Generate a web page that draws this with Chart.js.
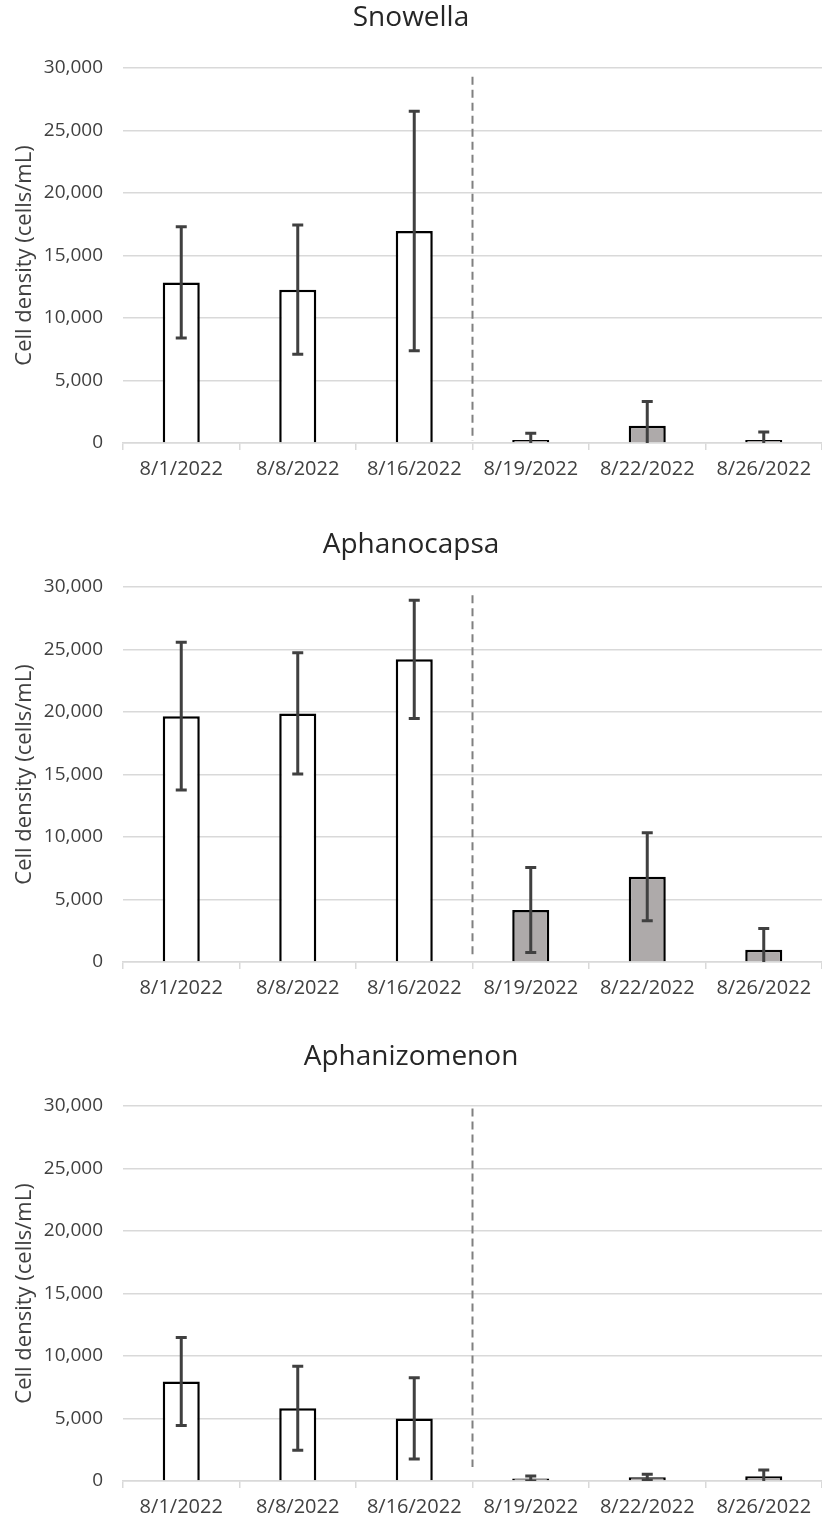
<!DOCTYPE html>
<html>
<head>
<meta charset="utf-8">
<script src="https://cdn.jsdelivr.net/npm/chart.js@4.4.1/dist/chart.umd.min.js"></script>
<style>
  html, body { margin: 0; padding: 0; background: #fff; }
  .panel { position: absolute; left: 0; width: 822px; height: 483px; }
</style>
</head>
<body>
<div class="panel" style="top:0"><canvas id="c0"></canvas></div>
<div class="panel" style="top:519px"><canvas id="c1"></canvas></div>
<div class="panel" style="top:1038px"><canvas id="c2"></canvas></div>
<script>
// ── Data ──────────────────────────────────────────────────
const DATES = ['8/1/2022', '8/8/2022', '8/16/2022', '8/19/2022', '8/22/2022', '8/26/2022'];
const TITLES = ['Snowella', 'Aphanocapsa', 'Aphanizomenon'];
const Y_LABEL = 'Cell density (cells/mL)';

const SNOWELLA      = [12850, 12270, 16960, 250, 1380, 250];
const SNOWELLA_SD   = [4450, 5170, 9580, 530, 1950, 630];
const APHANOCAPSA    = [19670, 19890, 24220, 4160, 6820, 980];
const APHANOCAPSA_SD = [5910, 4850, 4730, 3400, 3520, 1700];
const APHANIZOMENON    = [7970, 5830, 5010, 200, 300, 380];
const APHANIZOMENON_SD = [3520, 3360, 3250, 200, 240, 500];

// dashed divider between 8/16 and 8/19 runs between these y values
const DIVIDER_TOP    = [29300, 29350, 29800];
const DIVIDER_BOTTOM = [160, 580, 1120];
const LAST_BEFORE_DIVIDER = 2;   // index of 8/16

const SERIES = [SNOWELLA, APHANOCAPSA, APHANIZOMENON];
const ERRORS = [SNOWELLA_SD, APHANOCAPSA_SD, APHANIZOMENON_SD];

// ── Look ──────────────────────────────────────────────────
Chart.defaults.font.family = "'Open Sans', 'Noto Sans', sans-serif";
Chart.defaults.color = '#404040';
const GRID = '#d9d9d9';
const TITLE_PAD = [{ top: 1.7, bottom: 32.7 }, { top: 9.2, bottom: 25.2 }, { top: 2.2, bottom: 32.2 }];

// error bars + dashed divider, drawn on top of the bars
const overlays = {
  id: 'overlays',
  afterDatasetsDraw(chart, args, opts) {
    const { ctx, chartArea: a, scales: { x, y } } = chart;
    const meta = chart.getDatasetMeta(0);
    ctx.save();
    ctx.beginPath();
    ctx.rect(a.left, a.top, a.right - a.left, a.bottom - a.top);
    ctx.clip();

    // divider
    const dx = (x.getPixelForValue(LAST_BEFORE_DIVIDER) + x.getPixelForValue(LAST_BEFORE_DIVIDER + 1)) / 2;
    ctx.strokeStyle = '#808080';
    ctx.lineWidth = 2;
    ctx.setLineDash([8, 5]);
    ctx.beginPath();
    ctx.moveTo(dx, y.getPixelForValue(opts.divTop));
    ctx.lineTo(dx, y.getPixelForValue(opts.divBottom));
    ctx.stroke();
    ctx.setLineDash([]);

    // error bars
    ctx.strokeStyle = '#404040';
    ctx.lineWidth = 3;
    meta.data.forEach((bar, i) => {
      const v = opts.values[i], e = opts.sd[i];
      const hi = y.getPixelForValue(v + e), lo = y.getPixelForValue(v - e);
      ctx.beginPath();
      ctx.moveTo(bar.x, hi); ctx.lineTo(bar.x, lo);
      ctx.moveTo(bar.x - 5.5, hi); ctx.lineTo(bar.x + 5.5, hi);
      ctx.moveTo(bar.x - 5.5, lo); ctx.lineTo(bar.x + 5.5, lo);
      ctx.stroke();
    });
    ctx.restore();
  }
};

function makeChart(k) {
  const values = SERIES[k];
  new Chart(document.getElementById('c' + k), {
    type: 'bar',
    data: {
      labels: DATES,
      datasets: [{
        data: values,
        backgroundColor: values.map((_, i) => i > LAST_BEFORE_DIVIDER ? '#aeaaaa' : '#ffffff'),
        borderColor: '#000',
        borderWidth: 2.5,
        barPercentage: 0.318,
        categoryPercentage: 1,
      }],
    },
    options: {
      responsive: true,
      maintainAspectRatio: false,
      animation: false,
      layout: { padding: { left: 0, right: 0, top: 0, bottom: 0 } },
      plugins: {
        legend: { display: false },
        tooltip: { enabled: false },
        title: {
          display: true, text: TITLES[k], color: '#262626',
          font: { size: 28, weight: 'normal' }, padding: TITLE_PAD[k],
        },
        overlays: { values, sd: ERRORS[k], divTop: DIVIDER_TOP[k], divBottom: DIVIDER_BOTTOM[k] },
      },
      scales: {
        x: {
          afterFit: s => { s.height = 483 - 443; },
          grid: { drawOnChartArea: false, drawTicks: true, tickLength: 7, color: GRID, lineWidth: 1.5 },
          border: { color: GRID, width: 1.5 },
          ticks: { font: { size: 20 }, padding: 7, maxRotation: 0, autoSkip: false },
        },
        y: {
          min: 0, max: 30000,
          afterFit: s => { s.width = 123; },
          grid: { color: GRID, lineWidth: 1.5, drawTicks: false },
          border: { display: false },
          ticks: { stepSize: 5000, font: { size: 19 }, padding: 20, callback: v => v.toLocaleString('en-US') },
          title: { display: true, text: Y_LABEL, font: { size: 22 }, padding: { top: 11.8, bottom: 0 } },
        },
      },
    },
    plugins: [overlays],
  });
}

[0, 1, 2].forEach(makeChart);
</script>
</body>
</html>
